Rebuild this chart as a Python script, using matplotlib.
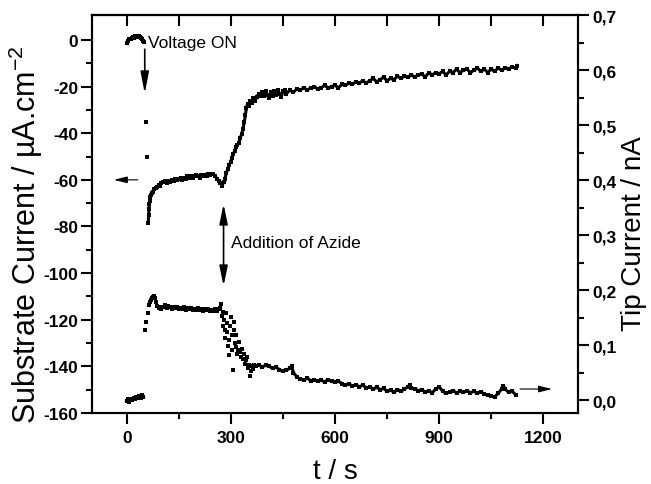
import numpy as np
import matplotlib
matplotlib.use('Agg')
import matplotlib.pyplot as plt
from matplotlib.ticker import FixedLocator, FuncFormatter

plt.rcParams['font.family'] = ['Liberation Sans', 'DejaVu Sans']
plt.rcParams['axes.unicode_minus'] = False

# substrate current (left axis, uA/cm2) before the voltage step
sub_t_off = [2, 5, 8, 11, 14, 17, 20, 23, 26, 29, 32, 35, 38, 41, 44, 47, 49]
sub_v_off = [-1.5, -0.5, 0.2, 0.6, 0.8, 1.2, 1.0, 1.5, 1.8, 1.4, 1.7, 1.9, 1.3, 1.0, 0.4, -0.3, -0.8]

# lone points during the step
sub_t_step = [55, 59]
sub_v_step = [-35, -50]

# substrate current after the voltage step
sub_t = [62, 63, 64, 65, 66, 68, 70, 73, 76, 80, 84, 88, 92, 96, 100, 105, 110, 115, 120, 125,
         130, 135, 140, 145, 150, 155, 160, 165, 170, 175, 180, 185, 190, 195, 200, 205, 210, 215,
         220, 225, 230, 235, 240, 245, 250, 255, 260, 265, 270, 275, 279, 283, 287, 291, 295, 299,
         303, 307, 311, 315, 319, 323, 327, 331, 335, 339, 342, 345, 348, 352, 356, 360, 365, 370,
         375, 380, 385, 390, 395, 400, 405, 410, 415, 420, 425, 430, 435, 440, 445, 450, 455, 460,
         470, 480, 490, 500, 510, 520, 530, 540, 550, 560, 570, 580, 590, 600, 610, 620, 630, 640,
         650, 660, 670, 680, 690, 700, 710, 720, 730, 740, 750, 760, 770, 780, 790, 800, 810, 820,
         830, 840, 850, 860, 870, 880, 890, 900, 910, 920, 930, 940, 950, 960, 970, 980, 990, 1000,
         1010, 1020, 1030, 1040, 1050, 1060, 1070, 1080, 1090, 1100, 1110, 1120, 1125]
sub_v = [-78.5, -75, -72.5, -70.5, -69, -67.5, -66.5, -65.5, -65, -64, -63.5, -63, -62, -62.5,
         -61.5, -61, -60.5, -61.5, -60.5, -61, -60, -60.5, -59.5, -60, -59.5, -59, -60, -59, -59.5,
         -58.5, -59, -58.5, -59, -58.5, -58, -58.5, -59, -58, -58.5, -58, -58.5, -57.5, -58, -57.5,
         -57.5, -58.5, -59.5, -60.5, -61.5, -62.5, -61, -59.5, -57, -55.5, -53.5, -52.5, -50.5, -49,
         -47.5, -46, -45, -44, -42, -40.5, -38, -35, -32, -29, -27.5, -28.5, -26, -27, -25, -26,
         -24.5, -23, -24, -22.5, -24, -22, -23.5, -25, -22.5, -24, -22, -23.5, -21.5, -23, -24.5,
         -22, -21.5, -23, -21.5, -22.5, -21, -21.5, -20.5, -21.5, -20.5, -20, -21, -20.5, -19.5,
         -20.5, -20, -19.5, -20.5, -19, -19.5, -18.5, -19, -18, -18.5, -17.5, -18.5, -17.5, -16.5,
         -18, -17, -16, -17.5, -16.5, -17, -15.5, -16.5, -15.5, -16, -15, -16, -15, -14.5, -16, -14,
         -15, -14, -14.5, -13.5, -15, -13.5, -14, -12.5, -14, -13, -12.5, -14, -13, -12, -13.5,
         -12.5, -14, -12.5, -13.5, -12, -13, -12, -12.5, -11.5, -12, -11]

# tip current (right axis, nA) before the voltage step
tip_t_off = [0, 4, 8, 12, 16, 20, 24, 28, 32, 36, 40, 44, 48]
tip_r_off = [-0.002, 0.001, -0.003, 0.002, 0.0, 0.004, 0.001, 0.006, 0.003, 0.008, 0.004, 0.009, 0.005]

tip_t_step = [54, 57, 60]
tip_r_step = [0.128, 0.142, 0.158]

# tip plateau up to azide addition
tip_t_plat = [63, 66, 69, 72, 75, 78, 81, 84, 88, 92, 96, 100, 105, 110, 115, 120, 125, 130, 135,
              140, 145, 150, 155, 160, 165, 170, 175, 180, 185, 190, 195, 200, 205, 210, 215, 220,
              225, 230, 235, 240, 245, 250, 255, 260, 265, 270]
tip_r_plat = [0.172, 0.178, 0.182, 0.185, 0.188, 0.19, 0.186, 0.178, 0.171, 0.168, 0.17, 0.166,
              0.169, 0.172, 0.168, 0.171, 0.17, 0.166, 0.169, 0.167, 0.17, 0.165, 0.168, 0.166,
              0.169, 0.164, 0.167, 0.165, 0.168, 0.163, 0.166, 0.164, 0.167, 0.163, 0.165, 0.162,
              0.166, 0.163, 0.165, 0.162, 0.164, 0.161, 0.165, 0.162, 0.166, 0.168]

# scattered points while the tip current drops
tip_t_drop = [272, 274, 276, 278, 280, 282, 284, 286, 288, 290, 292, 294, 296, 298, 300, 302, 304,
              306, 308, 310, 312, 314, 316, 318, 320, 323, 326, 329, 332, 335, 338, 341, 344, 347,
              350, 353, 356, 359, 362, 365, 368]
tip_r_drop = [0.175, 0.153, 0.16, 0.135, 0.145, 0.128, 0.112, 0.158, 0.14, 0.123, 0.098, 0.082,
              0.11, 0.135, 0.151, 0.118, 0.091, 0.055, 0.142, 0.128, 0.103, 0.097, 0.118, 0.084,
              0.091, 0.105, 0.087, 0.079, 0.092, 0.075, 0.083, 0.066, 0.072, 0.078, 0.058, 0.064,
              0.044, 0.052, 0.061, 0.056, 0.063]

# tip current after azide
tip_t = [372, 380, 390, 400, 410, 420, 430, 440, 450, 460, 470, 475, 480, 490, 500, 510, 520, 530,
         540, 550, 560, 570, 580, 590, 600, 610, 620, 630, 640, 650, 660, 670, 680, 690, 700, 710,
         720, 730, 740, 750, 760, 770, 780, 790, 800, 810, 815, 820, 830, 840, 850, 860, 870, 880,
         890, 900, 910, 920, 930, 940, 950, 960, 970, 980, 990, 1000, 1010, 1020, 1030, 1040, 1050,
         1060, 1070, 1080, 1085, 1090, 1100, 1110, 1120]
tip_r = [0.062, 0.064, 0.06, 0.063, 0.061, 0.058, 0.06, 0.055, 0.053, 0.054, 0.058, 0.062, 0.05,
         0.042, 0.038, 0.036, 0.04, 0.035, 0.037, 0.034, 0.036, 0.033, 0.037, 0.034, 0.032, 0.034,
         0.03, 0.027, 0.03, 0.025, 0.028, 0.024, 0.027, 0.022, 0.024, 0.02, 0.023, 0.019, 0.021,
         0.016, 0.018, 0.014, 0.019, 0.016, 0.02, 0.024, 0.028, 0.022, 0.02, 0.017, 0.019, 0.014,
         0.017, 0.013, 0.02, 0.024, 0.016, 0.012, 0.015, 0.017, 0.013, 0.016, 0.014, 0.017, 0.013,
         0.016, 0.012, 0.015, 0.011, 0.009, 0.007, 0.006, 0.012, 0.02, 0.026, 0.02, 0.014, 0.016,
         0.01]

x_ticks = [0, 300, 600, 900, 1200]
sub_ticks = [-160, -140, -120, -100, -80, -60, -40, -20, 0]
tip_ticks = [0.0, 0.1, 0.2, 0.3, 0.4, 0.5, 0.6, 0.7]

fig = plt.figure(figsize=(6.51, 4.85), dpi=100)
ax = fig.add_axes([0.1413, 0.1464, 0.7466, 0.8206])
ax2 = ax.twinx()

trace = dict(color='k', lw=2.2, marker='s', ms=2.8, mew=0)
dots = dict(color='k', ls='none', marker='s', ms=2.8, mew=0)

ax.plot(sub_t_off, sub_v_off, **trace)
ax.plot(sub_t_step, sub_v_step, **dots)
ax.plot(sub_t, sub_v, **trace)

ax2.plot(tip_t_off, tip_r_off, **trace)
ax2.plot(tip_t_step, tip_r_step, **dots)
ax2.plot(tip_t_plat, tip_r_plat, **trace)
ax2.plot(tip_t_drop, tip_r_drop, **dots)
ax2.plot(tip_t, tip_r, **trace)

ax.set_xlim(-100, 1300)
ax.set_ylim(-160, 10.7)
ax2.set_ylim(-0.0236, 0.7)

ax.set_xticks(x_ticks)
ax.xaxis.set_minor_locator(FixedLocator([150, 450, 750, 1050]))
ax.set_yticks(sub_ticks)
ax.yaxis.set_minor_locator(FixedLocator(np.arange(-150, 0, 20)))
ax2.set_yticks(tip_ticks)
ax2.yaxis.set_minor_locator(FixedLocator(np.arange(0.05, 0.7, 0.1)))
ax2.yaxis.set_major_formatter(FuncFormatter(lambda v, p: f"{v:.1f}".replace('.', ',')))

for a in (ax, ax2):
    a.tick_params(which='major', direction='out', length=8, width=1.5, labelsize=12.5, pad=2)
    a.tick_params(which='minor', direction='out', length=4.5, width=1.5)
    for s in a.spines.values():
        s.set_linewidth(1.5)
    for lab in a.get_xticklabels() + a.get_yticklabels():
        lab.set_fontweight('bold')
ax.tick_params(axis='x', pad=4)

top = ax.secondary_xaxis('top')
top.set_xticks(np.arange(0, 1201, 150))
top.tick_params(direction='in', length=8, width=1.5, labeltop=False)
top.spines['top'].set_linewidth(1.5)

ax.set_xlabel('t / s', fontsize=20)
ax.xaxis.set_label_coords(0.5, -0.112)
ax.set_ylabel(r'Substrate Current / µA.cm$^{\mathregular{-2}}$', fontsize=22)
ax.yaxis.set_label_coords(-0.097, 0.452)
ax2.set_ylabel('Tip Current / nA', fontsize=20)
ax2.yaxis.set_label_coords(1.088, 0.452)

head = '-|>,head_length=1.3,head_width=0.25'
small = '-|>,head_length=0.8,head_width=0.2'
ax.annotate('', xy=(52, -23), xytext=(52, -4),
            arrowprops=dict(arrowstyle=head, color='k', lw=1.2, shrinkA=0, shrinkB=0))
ax.text(62, -1, 'Voltage ON', fontsize=12.5, va='center', ha='left')
ax.annotate('', xy=(-37, -60), xytext=(32, -60),
            arrowprops=dict(arrowstyle=small, color='k', lw=0.8, shrinkA=0, shrinkB=0))
ax.annotate('', xy=(279, -70.4), xytext=(279, -105.5),
            arrowprops=dict(arrowstyle='<|-|>,head_length=1.2,head_width=0.25', color='k', lw=1.2,
                            shrinkA=0, shrinkB=0))
ax.text(299, -87, 'Addition of Azide', fontsize=12.5, va='center', ha='left')
ax2.annotate('', xy=(1225, 0.02), xytext=(1133, 0.02),
             arrowprops=dict(arrowstyle=small, color='k', lw=0.8, shrinkA=0, shrinkB=0))

fig.savefig('out.png', dpi=100)
